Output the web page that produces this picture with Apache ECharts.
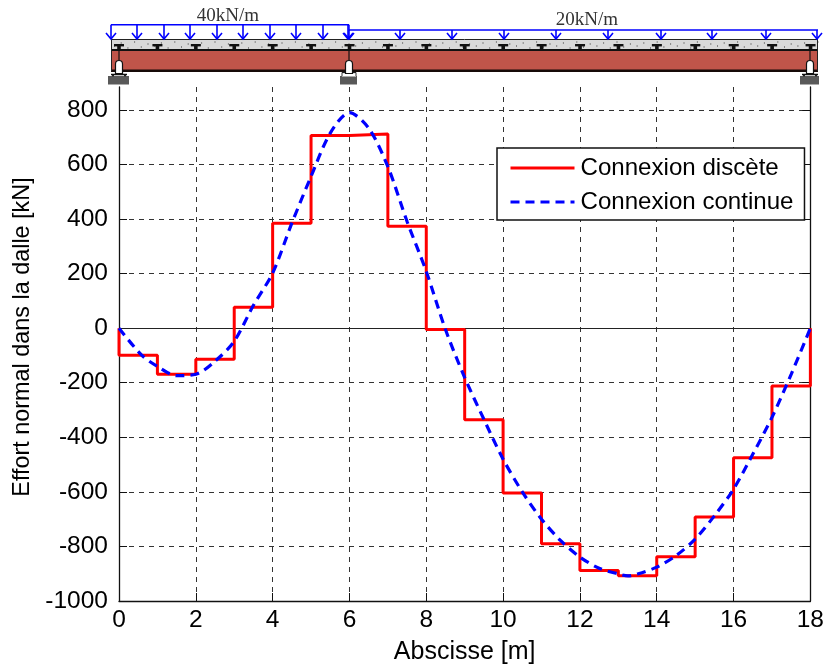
<!DOCTYPE html>
<html><head><meta charset="utf-8">
<style>html,body{margin:0;padding:0;background:#fff}#c{width:827px;height:670px}</style>
<script src="https://cdn.jsdelivr.net/npm/echarts@6/dist/echarts.min.js"></script>
</head><body><div id="c"></div>
<script>
const xTicks = [0,2,4,6,8,10,12,14,16,18];
const yTicks = [-1000,-800,-600,-400,-200,0,200,400,600,800];
const stepValues = [-99,-169,-114,77,385,706,712,374,-5,-336,-604,-790,-888,-907,-838,-692,-475,-212];
const curveX = [0,0.59,1,1.5,2,2.5,3,3.5,4,4.5,5,5.5,6,6.5,7,7.5,8,8.5,9,9.5,10,10.5,11,11.5,12,12.5,13,13.25,13.5,14,14.5,15,15.5,16,16.5,17,17.5,18];
const curveY = [0,-99,-140,-174,-169,-121,-48,84,202,385,556,715,790,733,592,391,208,-5,-181,-334,-480,-600,-700,-779,-839,-880,-901,-908,-901,-876,-834,-773,-688,-590,-462,-327,-169,0];
const seriesNames = ['Connexion discète','Connexion continue'];
const loadLabels = ['40kN/m','20kN/m'];

const stepData = [[0,0]];
stepValues.forEach((v,i)=>{stepData.push([i,v]);stepData.push([i+1,v]);});
stepData.push([18,0]);
const curveData = curveX.map((x,i)=>[x,curveY[i]]);

const font = '"Liberation Sans", Arial, sans-serif';
const gr = [];
const rect=(x,y,w,h,fill,r)=>gr.push({type:'rect',shape:{x,y,width:w,height:h,r:r||0},style:{fill},silent:true});
const line=(x1,y1,x2,y2,stroke,lw)=>gr.push({type:'line',shape:{x1,y1,x2,y2},style:{stroke,lineWidth:lw},silent:true});
const txt=(x,y,text,size)=>gr.push({type:'text',x,y,style:{text,fill:'#333',font:size+'px "Liberation Serif", serif',textAlign:'center',textVerticalAlign:'middle'},silent:true});

const bL=111,bR=818;
rect(bL,39.5,bR-bL,10,'#d9d9d9');
for(let i=0,x=bL+3;x<bR;x+=6.7,i++){ rect(x,(i%2?41.5:45.5)+(i%3),1,1,'#333'); }
line(bL,39.5,bR,39.5,'#222',1);
rect(bL,49,bR-bL,3,'#111');
rect(bL,51,bR-bL,19,'#c0554a');
rect(bL,69.5,bR-bL,2.5,'#170a08');
line(bL+.5,39.5,bL+.5,71,'#222',1);
line(bR-.5,39.5,bR-.5,71,'#222',1);
// connectors
const m=v=>119+38.42*v;
for(let i=0;i<=18;i++){ const x=m(i); rect(x-5,44,10,2.4,'#111'); rect(x-1.8,46,3.6,4,'#111'); }
// supports
[[119,108,21],[349,340,17],[810,800,19]].forEach(([x,gx,gw],k)=>{
  line(x,50,x,60,'#111',1.2);
  rect(gx,76,gw,8.5,'#595959');
  if(k===1){ rect(x-7,72.5,14,4,'#fff'); line(x-7,72.5,x-7,76,'#333',1); line(x+7,72.5,x+7,76,'#333',1); line(x-7,72.5,x+7,72.5,'#222',1.2); }
  else { line(x-8,74.5,x+8,74.5,'#111',1.5); gr.push({type:'circle',shape:{cx:x-6,cy:75.5,r:1},style:{fill:'#111'},silent:true}); gr.push({type:'circle',shape:{cx:x+6,cy:75.5,r:1},style:{fill:'#111'},silent:true}); }
  gr.push({type:'rect',shape:{x:x-3.5,y:60.5,width:7,height:13,r:[3.5,3.5,0,0]},style:{fill:'#fff',stroke:'#111',lineWidth:1.2},silent:true});
});
// loads
const blue='#0000ff';
const arrow=(x,y0)=>{ line(x,y0,x,39,blue,1.6); gr.push({type:'polyline',shape:{points:[[x-5,33],[x,39],[x+5,33]]},style:{stroke:blue,lineWidth:1.6,fill:null},silent:true}); };
line(111,24.7,349,24.7,blue,1.5);
line(349,24.7,349,30,blue,1.5);
line(349,30,818,30,blue,1.5);
[111,137,164,190,217,243,270,296,323,348].forEach(x=>arrow(x,24.7));
[349,400,452,504,556,608,661,712,766,817].forEach(x=>arrow(x,30));
txt(228,16,loadLabels[0],19);
txt(587,20,loadLabels[1],19);

const gridLine={show:true,lineStyle:{color:'#333',type:[5,5],width:1}};
const mkY=(pos,show)=>({type:'value',position:pos,min:-1000,max:884,
  axisLine:{show:true,onZero:false,lineStyle:{color:'#111',width:1.3}},
  axisTick:{show:true,inside:true,length:8,customValues:yTicks,lineStyle:{color:'#111'}},
  axisLabel:{show,customValues:yTicks,color:'#000',fontFamily:font,fontSize:24.5,margin:11,formatter:v=>String(v)},
  splitLine:show?gridLine:{show:false},
  name:show?'Effort normal dans la dalle [kN]':'',nameLocation:'middle',nameGap:84,
  nameTextStyle:{color:'#000',fontFamily:font,fontSize:23.4,padding:[0,0,0,14]}
});

const chart=echarts.init(document.getElementById('c'),null,{renderer:'canvas'});
chart.setOption({
  animation:false,backgroundColor:'#fff',
  grid:{left:119,right:16.3,top:87,bottom:68,containLabel:false},
  xAxis:{type:'value',min:0,max:18,interval:2,
    axisLine:{show:true,onZero:false,lineStyle:{color:'#111',width:1.3}},
    axisTick:{show:true,inside:true,length:8,lineStyle:{color:'#111'}},
    axisLabel:{color:'#000',fontFamily:font,fontSize:24.5,margin:7,customValues:xTicks},
    splitLine:gridLine,
    name:'Abscisse [m]',nameLocation:'middle',nameGap:39,
    nameTextStyle:{color:'#000',fontFamily:font,fontSize:25}},
  yAxis:[mkY('left',true),mkY('right',false)],
  legend:{left:497,top:148,orient:'vertical',itemWidth:64,itemHeight:4,itemGap:10,
    padding:[8,11,6,12],backgroundColor:'#fff',borderColor:'#111',borderWidth:1.5,
    itemStyle:{opacity:0},lineStyle:{width:3},
    textStyle:{color:'#000',fontFamily:font,fontSize:24.1,height:24,lineHeight:24,padding:[0,0,0,1]},
    data:seriesNames},
  series:[
    {name:seriesNames[0],type:'line',data:stepData,symbol:'none',lineStyle:{color:'#ff0000',width:3},itemStyle:{color:'#ff0000'},z:3,
     markLine:{silent:true,symbol:'none',label:{show:false},lineStyle:{color:'#222',type:'solid',width:1},data:[{yAxis:0}],z:2}},
    {name:seriesNames[1],type:'line',data:curveData,symbol:'none',smooth:0.3,lineStyle:{color:'#0000ff',width:3.2,type:[9,6]},itemStyle:{color:'#0000ff'},z:4}
  ],
  graphic:{elements:gr}
});
</script></body></html>
